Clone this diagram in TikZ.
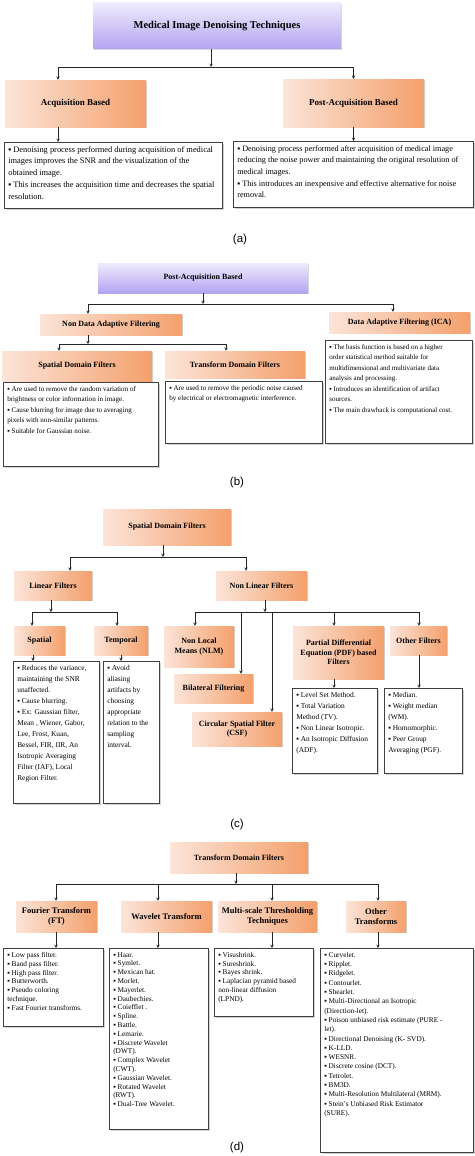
\documentclass[tikz,border=0pt]{standalone}
\usepackage{fontspec}
\setmainfont{Liberation Serif}
\setsansfont{Liberation Sans}
\usetikzlibrary{shadows}

\definecolor{lavlo}{HTML}{EFEBFD}
\definecolor{lavhi}{HTML}{B3A4F2}
\definecolor{peachlo}{HTML}{FCE4D8}
\definecolor{peachhi}{HTML}{F4A06C}

% text of a note box, top aligned: height, width, lines
\newcommand{\boxtext}[3]{\begin{minipage}[t][\dimexpr#1pt-8pt\relax][t]{\dimexpr#2pt-8pt\relax}\raggedright #3\end{minipage}}
\newcommand{\itm}{▪\ }

\begin{document}
\begin{tikzpicture}[x=1pt,y=-1pt,
    purplebox/.style={top color=lavlo, bottom color=lavhi, align=center, font=\bfseries\fontsize{8}{9.5}\selectfont,
        drop shadow={shadow xshift=1pt, shadow yshift=-1pt, opacity=.3}},
    orangebox/.style={left color=peachlo, right color=peachhi, align=center, font=\bfseries\fontsize{8}{9.5}\selectfont,
        drop shadow={shadow xshift=1.2pt, shadow yshift=-1.2pt, opacity=.35}},
    notebox/.style={draw=black!75, fill=white, line width=.6pt, inner sep=4pt, anchor=north west,
        drop shadow={shadow xshift=1.2pt, shadow yshift=-1.2pt, opacity=.35}},
    arr/.style={-stealth, black!85, line width=.5pt},
    panel/.style={font=\sffamily\fontsize{11.5}{13}\selectfont}]
\useasboundingbox (0,0) rectangle (474,1156);

%% (a)
\node[purplebox, minimum width=248, minimum height=46, font=\bfseries\fontsize{10.5}{12}\selectfont] (ttl) at (217,26) {Medical Image Denoising Techniques};
\node[orangebox, minimum width=141, minimum height=47, font=\bfseries\fontsize{9}{11}\selectfont] (acq) at (75.5,103.5) {Acquisition Based};
\node[orangebox, minimum width=141, minimum height=48, font=\bfseries\fontsize{9}{11}\selectfont] (post) at (353.5,103) {Post-Acquisition Based};
\node[notebox, font=\fontsize{8.4}{11.7}\selectfont] (acqtxt) at (4,142) {\boxtext{66}{218}{%
\itm Denoising process performed during acquisition of medical\\
images improves the SNR and the visualization of the\\
obtained image.\\
\itm This increases the acquisition time and decreases the spatial\\
resolution.}};
\node[notebox, font=\fontsize{8.2}{11.7}\selectfont] (posttxt) at (233,141) {\boxtext{66}{240}{%
\itm Denoising process performed after acquisition of medical image\\
reducing the noise power and maintaining the original resolution of\\
medical images.\\
\itm This introduces an inexpensive and effective alternative for noise\\
removal.}};
\node[panel] (taga) at (240,240) {(a)};

\coordinate (ja) at (211,67);
\draw[arr] (ttl.south -| ja) -- (ja);
\draw[arr] (ja) -| (58,0 |- acq.north);
\draw[arr] (ja) -| (post.north);
\draw[arr] (58,0 |- acq.south) -- (58,0 |- acqtxt.north);
\draw[arr] (post.south) -- (post.south |- posttxt.north);

%% (b)
\node[purplebox, minimum width=210, minimum height=30] (pab) at (203,278) {Post-Acquisition Based};
\node[orangebox, minimum width=142, minimum height=21] (ndaf) at (111,324.5) {Non Data Adaptive Filtering};
\node[orangebox, minimum width=141, minimum height=21] (daf) at (399.5,322.5) {Data Adaptive Filtering (ICA)};
\node[orangebox, minimum width=150, minimum height=30] (sdf) at (77,366) {Spatial Domain Filters};
\node[orangebox, minimum width=140, minimum height=27] (tdf) at (235,364.5) {Transform Domain Filters};
\node[notebox, font=\fontsize{7.1}{10.5}\selectfont] (sdftxt) at (3,382) {\boxtext{84}{155}{%
\itm Are used to remove the random variation of\\
brightness or color information in image.\\
\itm Cause blurring for image due to averaging\\
pixels with non-similar patterns.\\
\itm Suitable for Gaussian noise.}};
\node[notebox, font=\fontsize{7.1}{10.5}\selectfont] (tdftxt) at (165,381) {\boxtext{62}{157}{%
\itm Are used to remove the periodic noise caused\\
by electrical or electromagnetic interference.}};
\node[notebox, font=\fontsize{7}{10.5}\selectfont] (icatxt) at (325,340) {\boxtext{103}{147}{%
\itm The basis function is based on a higher\\
order statistical method suitable for\\
multidimensional and multivariate data\\
analysis and processing.\\
\itm Introduces an identification of artifact\\
sources.\\
\itm The main drawback is computational cost.}};
\node[panel] (tagb) at (237,483) {(b)};

\coordinate (jb) at (203,304);
\draw[arr] (pab.south) -- (jb);
\draw[arr] (jb) -| (88,0 |- ndaf.north);
\draw[arr] (jb) -| (393,0 |- daf.north);
\coordinate (jb2) at (88,344);
\draw[arr] (88,0 |- ndaf.south) -- (jb2);
\draw[arr] (jb2) -| (59,0 |- sdf.north);
\draw[arr] (jb2) -| (226,0 |- tdf.north);

%% (c)
\node[orangebox, minimum width=128, minimum height=36] (sdf2) at (167,527) {Spatial Domain Filters};
\node[orangebox, minimum width=78, minimum height=29] (lin) at (53,585.5) {Linear Filters};
\node[orangebox, minimum width=91, minimum height=29] (nlin) at (261.5,585.5) {Non Linear Filters};
\node[orangebox, minimum width=51, minimum height=29] (spat) at (39.5,640.5) {Spatial};
\node[orangebox, minimum width=54, minimum height=29] (temp) at (121,640.5) {Temporal};
\node[notebox, font=\fontsize{7.4}{11}\selectfont] (spattxt) at (13,661) {\boxtext{142}{86}{%
\itm Reduces the variance,\\
maintaining the SNR\\
unaffected.\\
\itm Cause blurring.\\
\itm Ex: Gaussian filter,\\
Mean , Wiener, Gabor,\\
Lee, Frost, Kuan,\\
Bessel, FIR, IIR, An\\
Isotropic Averaging\\
Filter (IAF), Local\\
Region Filter.}};
\node[notebox, font=\fontsize{7.4}{11}\selectfont] (temptxt) at (103,661) {\boxtext{142}{56}{%
\itm Avoid\\
aliasing\\
artifacts by\\
choosing\\
appropriate\\
relation to the\\
sampling\\
interval.}};
\node[orangebox, minimum width=70, minimum height=41] (nlm) at (199,646.5) {Non Local\\Means (NLM)};
\node[orangebox, minimum width=79, minimum height=29] (bil) at (213.5,688.5) {Bilateral Filtering};
\node[orangebox, minimum width=90, minimum height=34] (csf) at (237,729) {Circular Spatial Filter\\(CSF)};
\node[orangebox, minimum width=91, minimum height=53] (pdf) at (338.5,652.5) {Partial Differential\\Equation (PDF) based\\Filters};
\node[orangebox, minimum width=57, minimum height=29] (oth) at (418.5,640.5) {Other Filters};
\node[notebox, font=\fontsize{7.4}{11}\selectfont] (pdftxt) at (292,688) {\boxtext{85}{85}{%
\itm Level Set Method.\\
\itm Total Variation\\
Method (TV).\\
\itm Non Linear Isotropic.\\
\itm An Isotropic Diffusion\\
(ADF).}};
\node[notebox, font=\fontsize{7.4}{11}\selectfont] (othtxt) at (384,688) {\boxtext{85}{78}{%
\itm Median.\\
\itm Weight median\\
(WM).\\
\itm Homomorphic.\\
\itm Peer Group\\
Averaging (PGF).}};
\node[panel] (tagc) at (237,825) {(c)};

\coordinate (jc) at (163,557);
\draw[arr] (163,0 |- sdf2.south) -- (jc);
\draw[arr] (jc) -| (70,0 |- lin.north);
\draw[arr] (jc) -| (246,0 |- nlin.north);
\coordinate (jc2) at (51,612);
\draw[arr] (51,0 |- lin.south) -- (jc2);
\draw[arr] (jc2) -| (32,0 |- spat.north);
\draw[arr] (jc2) -| (117,0 |- temp.north);
\draw[arr] (33,0 |- spat.south) -- (33,0 |- spattxt.north);
\draw[arr] (121,0 |- temp.south) -- (121,0 |- temptxt.north);
\coordinate (jc3) at (265,612);
\draw[arr] (265,0 |- nlin.south) -- (jc3);
\draw[arr] (jc3) -| (195,0 |- nlm.north);
\draw[arr] (jc3) -| (241,0 |- bil.north);
\draw[arr] (jc3) -| (272,0 |- csf.north);
\draw[arr] (jc3) -| (334,0 |- pdf.north);
\draw[arr] (jc3) -| (419,0 |- oth.north);
\draw[arr] (334,0 |- pdf.south) -- (334,0 |- pdftxt.north);
\draw[arr] (419,0 |- oth.south) -- (419,0 |- othtxt.north);

%% (d)
\node[orangebox, minimum width=138, minimum height=31] (tdf2) at (239,857.5) {Transform Domain Filters};
\node[orangebox, minimum width=81, minimum height=31, font=\bfseries\fontsize{8.5}{10}\selectfont] (ft) at (56.5,916.5) {Fourier Transform\\(FT)};
\node[orangebox, minimum width=91, minimum height=31, font=\bfseries\fontsize{8.5}{10}\selectfont] (wt) at (166.5,916.5) {Wavelet Transform};
\node[orangebox, minimum width=95, minimum height=31, font=\bfseries\fontsize{8.5}{10}\selectfont] (mst) at (267.5,916.5) {Multi-scale Thresholding\\Techniques};
\node[orangebox, minimum width=60, minimum height=31, font=\bfseries\fontsize{8.5}{10}\selectfont] (ot) at (376,916.5) {Other\\Transforms};
\node[notebox, font=\fontsize{7.3}{8.8}\selectfont] (fttxt) at (3,948) {\boxtext{78}{100}{%
\itm Low pass filter.\\
\itm Band pass filter.\\
\itm High pass filter.\\
\itm Butterworth.\\
\itm Pseudo coloring\\
technique.\\
\itm Fast Fourier transforms.}};
\node[notebox, font=\fontsize{7.3}{8.8}\selectfont] (wttxt) at (109,948) {\boxtext{181}{99}{%
\itm Haar.\\
\itm Symlet.\\
\itm Mexican hat.\\
\itm Morlet.\\
\itm Mayerlet.\\
\itm Daubechies.\\
\itm Coiefflet .\\
\itm Spline.\\
\itm Battle.\\
\itm Lemarie.\\
\itm Discrete Wavelet\\
(DWT).\\
\itm Complex Wavelet\\
(CWT).\\
\itm Gaussian Wavelet.\\
\itm Rotated Wavelet\\
(RWT).\\
\itm Dual-Tree Wavelet.}};
\node[notebox, font=\fontsize{7.3}{8.8}\selectfont] (msttxt) at (214,948) {\boxtext{68}{99}{%
\itm Visushrink.\\
\itm Sureshrink.\\
\itm Bayes shrink.\\
\itm Laplacian pyramid based\\
non-linear diffusion\\
(LPND).}};
\node[notebox, font=\fontsize{7.3}{9.3}\selectfont] (ottxt) at (320,948) {\boxtext{204}{153}{%
\itm Curvelet.\\
\itm Ripplet.\\
\itm Ridgelet.\\
\itm Contourlet.\\
\itm Shearlet.\\
\itm Multi-Directional an Isotropic\\
(Direction-let).\\
\itm Poison unbiased risk estimate (PURE -\\
let).\\
\itm Directional Denoising (K- SVD).\\
\itm K-LLD.\\
\itm WESNR.\\
\itm Discrete cosine (DCT).\\
\itm Tetrolet.\\
\itm BM3D.\\
\itm Multi-Resolution Multilateral (MRM).\\
\itm Stein's Unbiased Risk Estimator\\
(SURE).}};
\node[panel] (tagd) at (237,1148) {(d)};

\coordinate (jd) at (236,884);
\draw[arr] (236,0 |- tdf2.south) -- (jd);
\draw[arr] (jd) -| (56,0 |- ft.north);
\draw[arr] (jd) -| (158,0 |- wt.north);
\draw[arr] (jd) -| (272,0 |- mst.north);
\draw[arr] (jd) -| (378,0 |- ot.north);
\draw[arr] (56,0 |- ft.south) -- (56,0 |- fttxt.north);
\draw[arr] (158,0 |- wt.south) -- (158,0 |- wttxt.north);
\draw[arr] (272,0 |- mst.south) -- (272,0 |- msttxt.north);
\draw[arr] (378,0 |- ot.south) -- (378,0 |- ottxt.north);
\end{tikzpicture}
\end{document}
